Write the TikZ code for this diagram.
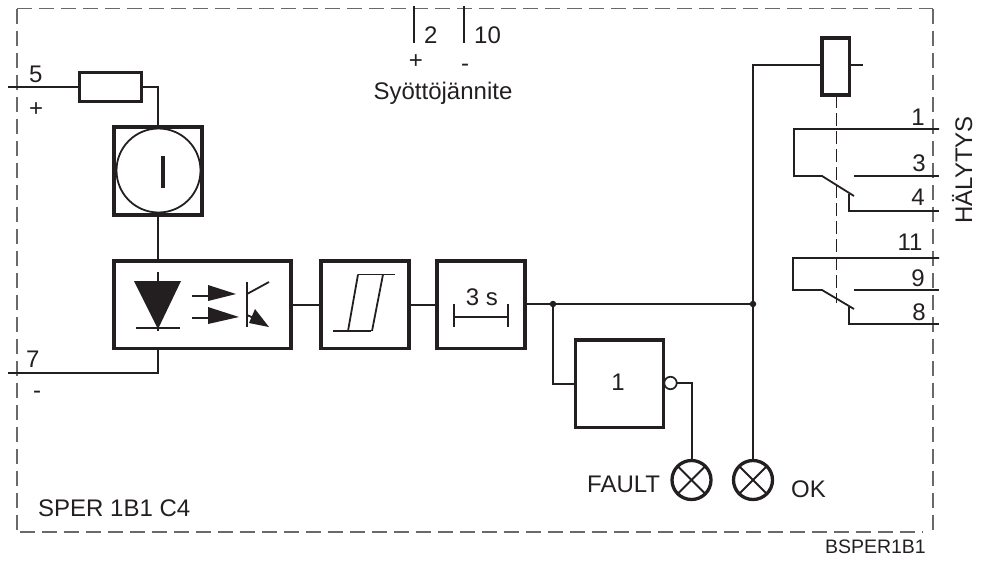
\documentclass[tikz,border=0pt]{standalone}
\usepackage{fontspec}
\setmainfont{Liberation Sans}
\definecolor{ink}{RGB}{35,31,32}
\definecolor{dashgray}{RGB}{105,105,105}
\tikzset{
  thick box/.style={draw=ink,line width=3.5pt,fill=none,inner sep=0pt,outer sep=0pt},
  wire/.style={draw=ink,line width=2pt},
  thin wire/.style={draw=ink,line width=1.8pt},
  frame/.style={draw=dashgray,line width=1.5pt,dash pattern=on 15pt off 7pt},
  label/.style={text=ink,inner sep=0pt,font=\fontsize{24}{24}\selectfont},
  dot/.style={circle,fill=ink,inner sep=0pt,minimum size=6.5pt},
  lamp/.style={circle,draw=ink,line width=3.3pt,minimum size=39pt,inner sep=0pt,outer sep=0pt,path picture={
    \draw[ink,line width=1.8pt] ([shift={(-20pt,-20pt)}]path picture bounding box.center) -- ++(40pt,40pt);
    \draw[ink,line width=1.8pt] ([shift={(-20pt,20pt)}]path picture bounding box.center) -- ++(40pt,-40pt);}}
}
\begin{document}
\begin{tikzpicture}[x=1pt,y=-1pt]
\useasboundingbox (0,0) rectangle (982,560);
% frame
\draw[frame] (17,8.5) -- (933,8.5);
\draw[frame] (17,8.5) -- (17,530);
\draw[frame] (20,532) -- (923,532);
\draw[frame] (933,8.5) -- (933,534);
% boxes
\node[thick box,minimum width=88pt,minimum height=88pt] (cur) at (158,171) {};
\node[circle,draw=ink,line width=1.8pt,minimum size=84pt,inner sep=0pt,outer sep=0pt] (curc) at (158.5,170.5) {};
\node[thick box,minimum width=177pt,minimum height=87.5pt] (opto) at (202.5,304.5) {};
\node[thick box,minimum width=88pt,minimum height=87.5pt] (hyst) at (365,304.5) {};
\node[thick box,minimum width=88pt,minimum height=87.5pt] (tim) at (481,304.5) {};
\node[thick box,minimum width=88pt,minimum height=87.5pt] (gate) at (619.5,383.5) {};
\node[thick box,minimum width=27.5pt,minimum height=57pt] (coil) at (835.5,66.5) {};
\node[thick box,minimum width=62pt,minimum height=29pt] (res) at (110.5,87) {};
% coordinates
\coordinate (five) at (8,87);
\coordinate (seven) at (8,373);
\coordinate (vbus) at (158,304);
\coordinate (stub) at (863,65);
\coordinate (p2a) at (414,6);
\coordinate (p2b) at (414,43);
\coordinate (p10a) at (464,6);
\coordinate (p10b) at (464,43);
\node[dot] (d1) at (553,304) {};
\node[dot] (d2) at (753,304) {};
\node[circle,draw=ink,line width=1.7pt,minimum size=12.5pt,inner sep=0pt,outer sep=0pt,fill=white] (neg) at (670.5,383) {};
\node[lamp] (fault) at (691.5,480) {};
\node[lamp] (ok) at (753,480) {};
% wires
\draw[wire] (five) -- (res.west);
\draw[wire] (res.east) -| (cur.north);
\draw[wire] (cur.south) -- (vbus |- opto.north);
\draw[wire] (seven) -| (vbus |- opto.south);
\draw[wire] (opto.east) -- (hyst.west);
\draw[wire] (hyst.east) -- (tim.west);
\draw[wire] (tim.east |- d1) -- (d2.center);
\draw[wire] (d1.center) |- (gate.west);
\draw[wire] (neg.east) -| (fault.north);
\draw[wire] (d2.center) -- (ok.north);
\draw[wire] (d2.center) |- (coil.west |- stub);
\draw[wire] (coil.east |- stub) -- (stub);
% top terminals
\draw[wire] (p2a) -- (p2b);
\draw[wire] (p10a) -- (p10b);
% I
\fill[ink] (160.5,156) rectangle (165,188);
% diode
\fill[ink] (134,281) -- (181,281) -- (158,329) -- cycle;
\draw[wire] (158,272) -- (158,331);
\draw[wire] (136,328) -- (180,328);
% optical arrows
\fill[ink] (208,285) -- (236,294) -- (208,301) -- cycle;
\fill[ink] (208,307) -- (239,317) -- (208,324) -- cycle;
\draw[thin wire] (192,296) -- (208,296);
\draw[thin wire] (192,318) -- (208,318);
% transistor
\draw[wire] (246.7,282) -- (246.7,327);
\draw[thin wire] (247,294) -- (269,282);
\draw[thin wire] (247,315) -- (256,319);
\fill[ink] (255,309) -- (269,327) -- (249,323) -- cycle;
% hysteresis
\draw[thin wire] (333,331) -- (371,331);
\draw[thin wire] (358,274.5) -- (395,274.5);
\draw[thin wire] (348,331) -- (358,274.5);
\draw[thin wire] (372,331) -- (383,274.5);
% timer
\draw[thin wire] (454,304) -- (454,327);
\draw[thin wire] (508,304) -- (508,327);
\draw[thin wire] (454,317) -- (508,317);
% relay contacts
\draw[thin wire] (939,129) -- (794,129) -- (794,176) -- (822,176) -- (854,196);
\draw[thin wire] (854,176) -- (939,176);
\draw[thin wire] (849,194) -- (849,211) -- (939,211);
\draw[thin wire] (939,258) -- (793,258) -- (793,290) -- (822,290) -- (854,309);
\draw[thin wire] (854,290) -- (939,290);
\draw[thin wire] (849,307) -- (849,324) -- (939,324);
% mechanical link
\draw[draw=ink,line width=1.3pt,dash pattern=on 13pt off 5pt] (836.7,95) -- (836.7,303);
% labels
\node[label,anchor=base west] (t5) at (29,82) {5};
\node[label,anchor=base west] (tp) at (29,116) {+};
\node[label,anchor=base west] (t7) at (26,367) {7};
\node[label,anchor=base west] (tm) at (33,398) {-};
\node[label,anchor=base west] (t2) at (424,43) {2};
\node[label,anchor=base west] (t10) at (474,43) {10};
\node[label,anchor=base] (tpp) at (416,68) {+};
\node[label,anchor=base] (tmm) at (465,71) {-};
\node[label,anchor=base] (sy) at (443,99) {Syöttöjännite};
\node[label,anchor=base] (t1) at (918,125) {1};
\node[label,anchor=base] (t3) at (919,171) {3};
\node[label,anchor=base] (t4) at (918,205) {4};
\node[label,anchor=base] (t11) at (910,250) {11};
\node[label,anchor=base] (t9) at (918,286) {9};
\node[label,anchor=base] (t8) at (919,320) {8};
\node[label,anchor=base,rotate=90] (hal) at (972,170) {HÄLYTYS};
\node[label,anchor=base] (t3s) at (482,305) {3 s};
\node[label,anchor=base] (t1g) at (618,390) {1};
\node[label,anchor=base west] (fl) at (587,492) {FAULT};
\node[label,anchor=base west] (okl) at (791,497) {OK};
\node[label,anchor=base west] (sper) at (38,516) {SPER 1B1 C4};
\node[label,anchor=base east,font=\fontsize{19.5}{19.5}\selectfont] (bs) at (926,553) {BSPER1B1};
\end{tikzpicture}
\end{document}
